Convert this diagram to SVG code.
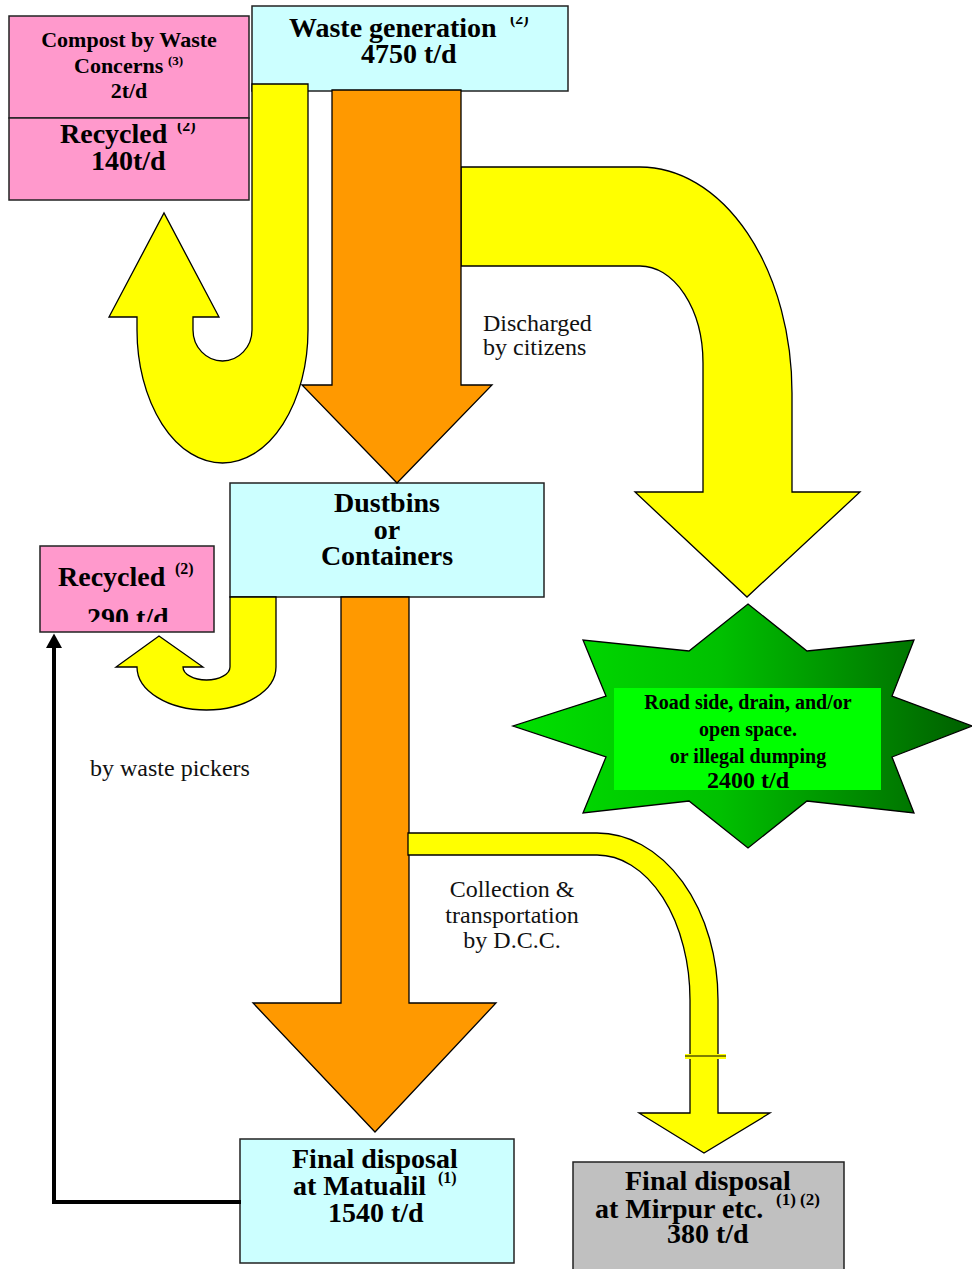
<svg xmlns="http://www.w3.org/2000/svg" width="972" height="1269" viewBox="0 0 972 1269">
<style>
.box{stroke:#222;stroke-width:1.5}
.cyan{fill:#ccffff}
.pink{fill:#ff99cc}
.gray{fill:#c0c0c0}
.b{font-family:"Liberation Serif","Times New Roman",serif;font-weight:bold;fill:#000}
.r{font-family:"Liberation Serif","Times New Roman",serif;fill:#111}
.big{font-size:28px}
.sup{font-size:16px}
.yel{fill:#ffff00;stroke:#000;stroke-width:1.3;stroke-linejoin:miter}
.ora{fill:#ff9900;stroke:#000;stroke-width:1.3}
</style>
<defs>
<linearGradient id="starg" gradientUnits="userSpaceOnUse" x1="513" y1="0" x2="972" y2="0">
<stop offset="0" stop-color="#00e000"/>
<stop offset="0.45" stop-color="#00c000"/>
<stop offset="1" stop-color="#005f00"/>
</linearGradient>
<clipPath id="clipSup1"><rect x="500" y="17" width="50" height="30"/></clipPath>
<clipPath id="clipSup2"><rect x="170" y="123" width="40" height="20"/></clipPath>
<clipPath id="clip290"><rect x="40" y="546" width="174" height="76"/></clipPath>
<marker id="ah" markerWidth="4" markerHeight="4" refX="0" refY="2" orient="auto" markerUnits="strokeWidth">
<path d="M0,0 L3.6,2 L0,4 Z" fill="#000"/>
</marker>
</defs>

<g id="node-compost">
<rect class="box pink" x="9" y="16" width="240" height="102"/>
<text class="b" font-size="22" text-anchor="middle" x="129" y="47">Compost by Waste</text>
<text class="b" font-size="22" x="74" y="73">Concerns</text>
<text class="b" font-size="13" x="168" y="65">(3)</text>
<text class="b" font-size="22" text-anchor="middle" x="129" y="98">2t/d</text>
</g>
<g id="node-recycled140">
<rect class="box pink" x="9" y="118" width="240" height="82"/>
<text class="b big" x="60" y="143">Recycled</text>
<text class="b sup" x="177" y="131" clip-path="url(#clipSup2)">(2)</text>
<text class="b big" x="91" y="170">140t/d</text>
</g>
<g id="node-waste-generation">
<rect class="box cyan" x="252" y="6" width="316" height="85"/>
<text class="b big" x="289" y="37">Waste generation</text>
<text class="b sup" x="510" y="24" clip-path="url(#clipSup1)">(2)</text>
<text class="b big" x="361" y="63">4750 t/d</text>
</g>
<g id="node-dustbins">
<rect class="box cyan" x="230" y="483" width="314" height="114"/>
<text class="b big" text-anchor="middle" x="387" y="512">Dustbins</text>
<text class="b big" text-anchor="middle" x="387" y="539">or</text>
<text class="b big" text-anchor="middle" x="387" y="565">Containers</text>
</g>
<g id="node-recycled290">
<rect class="box pink" x="40" y="546" width="174" height="86"/>
<text class="b big" x="58" y="586">Recycled</text>
<text class="b sup" x="175" y="574">(2)</text>
<text class="b big" x="87" y="627" clip-path="url(#clip290)">290 t/d</text>
</g>
<g id="node-illegal-dumping">
<polygon points="748,604 807,651 914,640 892,696 972,726 892,757 914,813 807,801 748,848 689,801 583,813 606,757 513,726 606,696 583,640 689,651" fill="url(#starg)" stroke="#000" stroke-width="1.3"/>
<rect x="614" y="688" width="267" height="102" fill="#00ff00"/>
<text class="b" font-size="20" text-anchor="middle" x="748" y="709">Road side, drain, and/or</text>
<text class="b" font-size="20" text-anchor="middle" x="748" y="736">open space.</text>
<text class="b" font-size="20" text-anchor="middle" x="748" y="763">or illegal dumping</text>
<text class="b" font-size="24" text-anchor="middle" x="748" y="788">2400 t/d</text>
</g>
<g id="node-matualil">
<rect class="box cyan" x="240" y="1139" width="274" height="124"/>
<text class="b big" x="292" y="1168">Final disposal</text>
<text class="b big" x="293" y="1195">at Matualil</text>
<text class="b sup" x="438" y="1183">(1)</text>
<text class="b big" x="328" y="1222">1540 t/d</text>
</g>
<g id="node-mirpur">
<rect class="box gray" x="573" y="1162" width="271" height="115"/>
<text class="b big" x="625" y="1190">Final disposal</text>
<text class="b big" x="595" y="1218">at Mirpur etc.</text>
<text class="b" font-size="17" x="776" y="1205">(1) (2)</text>
<text class="b big" x="667" y="1243">380 t/d</text>
</g>

<g id="connectors">
<path class="yel" d="M252,84 H308 V330 A85.5,133 0 0 1 137,330 V317 H109 L164,213 L219,317 H193 V330 A29.5,31 0 0 0 252,330 Z"/>
<path class="yel" d="M461,167 H640 A152,226 0 0 1 792,393 V492 H860 L747,597 L635,492 H703 V363 A63,97 0 0 0 640,266 H461 Z"/>
<path class="ora" d="M332,90 H461 V385 H492 L397,483 L302,385 H332 Z"/>
<path class="yel" d="M230,597 H276 V667 A69.5,43 0 0 1 137,667 H116 L159,636 L203,667 H183 A23.5,13 0 0 0 230,667 Z"/>
<path class="ora" d="M341,597 H409 V1003 H496 L375,1132 L253,1003 H341 Z"/>
<path class="yel" d="M408,833 H597 A121,167 0 0 1 718,1000 V1056 H690 V1000 A93,145 0 0 0 597,855 H408 Z"/>
<path class="yel" d="M690,1056 H718 V1113 H770 L704,1153 L639,1113 H690 Z"/>
<rect x="685" y="1054" width="41" height="5" fill="#ffff00"/>
<line x1="685" y1="1056" x2="726" y2="1056" stroke="#000" stroke-width="1.2"/>
<path d="M241,1202 H54 V648" fill="none" stroke="#000" stroke-width="4" marker-end="url(#ah)"/>
</g>

<g id="labels">
<text class="r" font-size="24" x="483" y="331">Discharged</text>
<text class="r" font-size="24" x="483" y="355">by citizens</text>
<text class="r" font-size="24" x="90" y="776">by waste pickers</text>
<text class="r" font-size="24" text-anchor="middle" x="512" y="897">Collection &amp;</text>
<text class="r" font-size="24" text-anchor="middle" x="512" y="923">transportation</text>
<text class="r" font-size="24" text-anchor="middle" x="512" y="948">by D.C.C.</text>
</g>
</svg>
